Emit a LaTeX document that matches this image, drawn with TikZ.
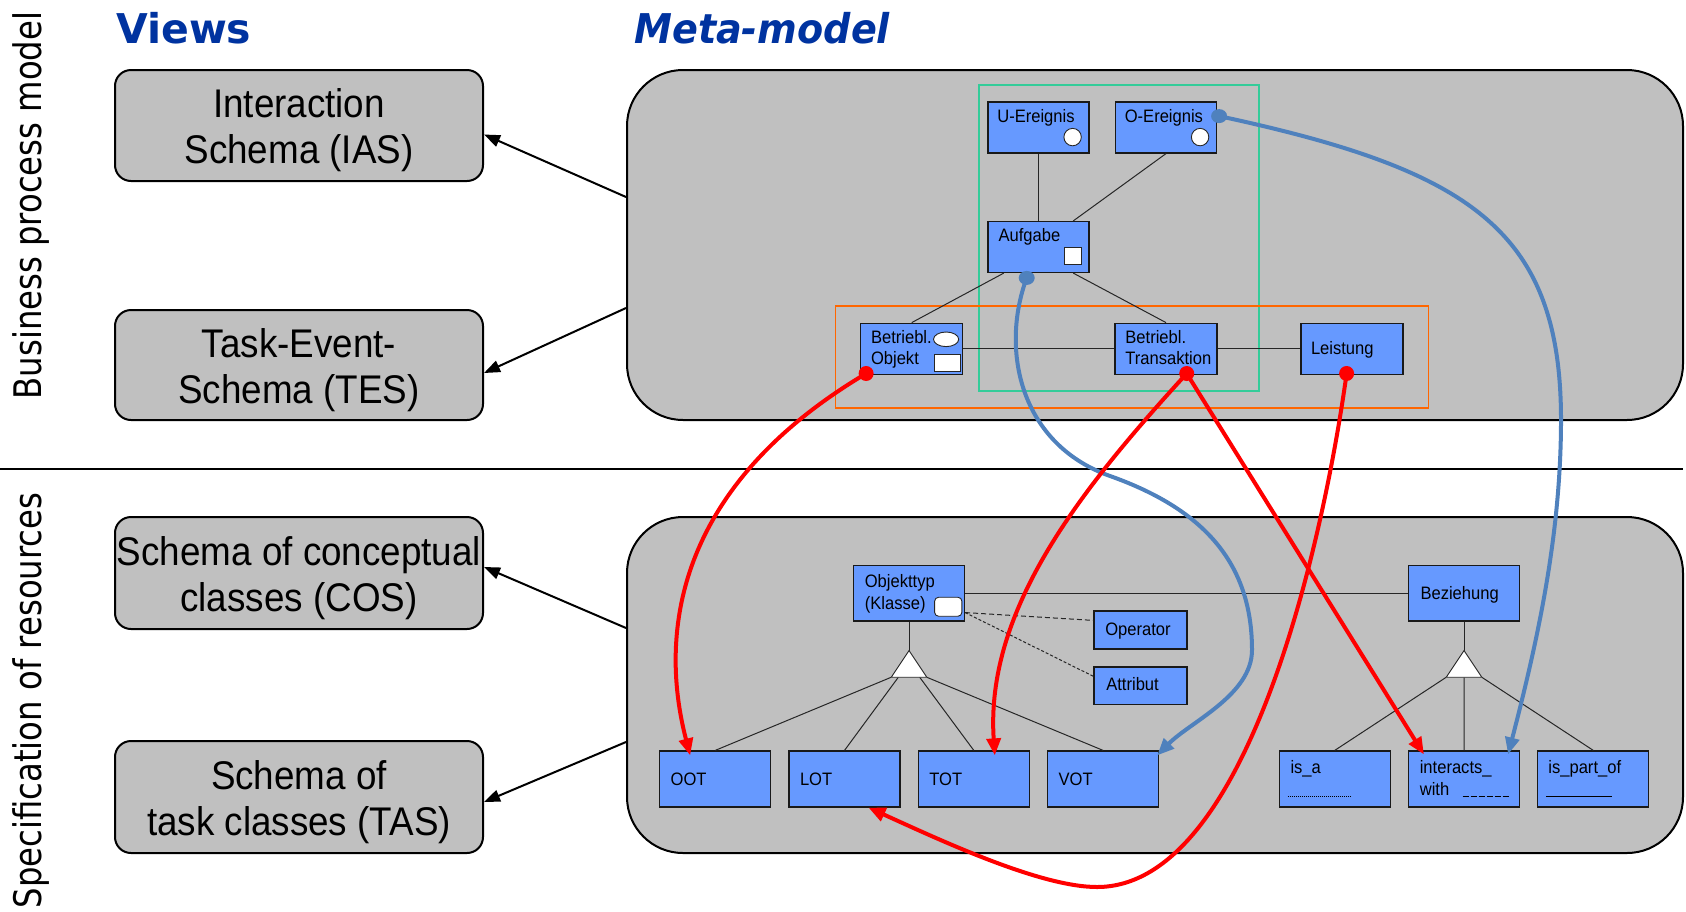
\documentclass[tikz,border=0pt]{standalone}
\usepackage{fontspec}
\setmainfont{Liberation Sans}
\newfontfamily\dejavu{DejaVu Sans}
\usetikzlibrary{arrows.meta,calc}
\definecolor{boxgray}{RGB}{192,192,192}
\definecolor{entblue}{RGB}{102,153,255}
\definecolor{titleblue}{RGB}{0,51,160}
\definecolor{linkblue}{RGB}{79,129,189}
\definecolor{framegreen}{RGB}{51,204,153}
\definecolor{frameorange}{RGB}{255,102,0}
\newcommand{\hsq}[1]{\scalebox{0.92}[1]{#1}}
\newcommand{\vsq}[1]{\scalebox{0.85}[1]{#1}}
\newcommand{\tsq}[1]{\scalebox{0.93}[1]{#1}}
\begin{document}
\begin{tikzpicture}[x=1pt,y=-1pt,
  view/.style={draw=black, line width=2pt, fill=boxgray, rounded corners=16pt,
    minimum width=368pt, minimum height=111pt, inner sep=0pt},
  vtext/.style={inner sep=0pt, align=center, font=\fontsize{40}{46}\selectfont},
  meta/.style={draw=black, line width=2pt, fill=boxgray, rounded corners=56pt, inner sep=0pt},
  ent/.style={draw=black!90, line width=1.2pt, fill=entblue, inner sep=0pt},
  etext/.style={inner sep=0pt, anchor=base west, align=left, font=\fontsize{18}{20.5}\selectfont},
  link/.style={line width=1pt, draw=black!85},
  deco/.style={fill=white, draw=black!85, line width=0.9pt},
  viewarrow/.style={line width=2pt, -{Triangle[length=16pt,width=12pt]}},
  redarrow/.style={draw=red, line width=4pt, -{Triangle[length=17pt,width=14pt]}},
  bluearrow/.style={draw=linkblue, line width=4pt, -{Triangle[length=17pt,width=14pt]}},
  ttl/.style={anchor=base west, inner sep=0pt, text=titleblue},
  side/.style={rotate=90, anchor=base, inner sep=0pt, font=\dejavu\fontsize{38}{40}\selectfont}
]
\useasboundingbox (0,0) rectangle (1686,911);

% titles and side labels
\node[ttl, font=\dejavu\bfseries\fontsize{41}{43}\selectfont] (views) at (116,43) {Views};
\node[ttl, font=\dejavu\bfseries\itshape\fontsize{41}{43}\selectfont] (metatitle) at (634,43) {\tsq{Meta-model}};
\node[side] (bpm) at (41,205.5) {\vsq{Business process model}};
\node[side] (sor) at (41,700.5) {\vsq{Specification of resources}};

% separator
\coordinate (sepL) at (0,469);
\coordinate (sepR) at (1683,469);
\draw[line width=1.5pt] (sepL) -- (sepR);

% view boxes
\node[view] (ias) at (299,125.5) {};
\node[view, minimum height=110pt] (tes) at (299,365) {};
\node[view, minimum height=112pt] (cos) at (299,573) {};
\node[view, minimum height=112pt] (tas) at (299,797) {};
\node[vtext] (iasT) at ($(ias.center)+(0,5)$) {\hsq{Interaction}\\\hsq{Schema (IAS)}};
\node[vtext] (tesT) at ($(tes.center)+(0,5)$) {\hsq{Task-Event-}\\\hsq{Schema (TES)}};
\node[vtext] (cosT) at ($(cos.center)+(0,5)$) {\hsq{Schema of conceptual}\\\hsq{classes (COS)}};
\node[vtext] (tasT) at ($(tas.center)+(0,5)$) {\hsq{Schema of}\\\hsq{task classes (TAS)}};

% meta-model boxes
\node[meta, minimum width=1056pt, minimum height=350pt] (mtop) at (1155,245) {};
\node[meta, minimum width=1056pt, minimum height=336pt] (mbot) at (1155,685) {};

% arrows to views
\draw[viewarrow] ($(mtop.west)+(0,-48)$) -- ($(ias.east)+(0,9)$);
\draw[viewarrow] ($(mtop.west)+(0,63)$) -- ($(tes.east)+(0,8)$);
\draw[viewarrow] ($(mbot.west)+(0,-57)$) -- ($(cos.east)+(0,-6)$);
\draw[viewarrow] ($(mbot.west)+(0,57)$) -- ($(tas.east)+(0,5)$);

% frames
\draw[framegreen, line width=1.2pt] (979,85) rectangle (1259,391);
\draw[frameorange, line width=1.2pt] (835.5,306) rectangle (1428.5,408);

% entities top
\node[ent, minimum width=101pt, minimum height=51pt] (ue) at (1038.5,127.5) {};
\node[ent, minimum width=101pt, minimum height=51pt] (oe) at (1166,127.5) {};
\node[ent, minimum width=101pt, minimum height=51pt] (auf) at (1038.5,247) {};
\node[ent, minimum width=102pt, minimum height=51pt] (bo) at (911.7,348.7) {};
\node[ent, minimum width=102pt, minimum height=51pt] (bt) at (1166,348.7) {};
\node[ent, minimum width=102pt, minimum height=51pt] (lei) at (1352,348.7) {};

% entities bottom
\node[ent, minimum width=111pt, minimum height=55.5pt] (obj) at (909,593.2) {};
\node[ent, minimum width=93pt, minimum height=38pt] (op) at (1140.5,630) {};
\node[ent, minimum width=93pt, minimum height=37.5pt] (att) at (1140.5,685.7) {};
\node[ent, minimum width=111pt, minimum height=55.5pt] (bez) at (1464,593.2) {};
\node[ent, minimum width=111pt, minimum height=56pt] (oot) at (715.2,779) {};
\node[ent, minimum width=111pt, minimum height=56pt] (lot) at (844.5,779) {};
\node[ent, minimum width=111pt, minimum height=56pt] (tot) at (973.8,779) {};
\node[ent, minimum width=111pt, minimum height=56pt] (vot) at (1103.1,779) {};
\node[ent, minimum width=111pt, minimum height=56pt] (isa) at (1334.7,779) {};
\node[ent, minimum width=111pt, minimum height=56pt] (iw) at (1464,779) {};
\node[ent, minimum width=111pt, minimum height=56pt] (ipo) at (1593.3,779) {};

% connections top
\draw[link] (ue.south) -- (auf.north);
\draw[link] (oe.south) -- ($(auf.north west)!0.84!(auf.north east)$);
\draw[link] ($(auf.south west)!0.16!(auf.south east)$) -- (bo.north);
\draw[link] ($(auf.south west)!0.84!(auf.south east)$) -- (bt.north);
\draw[link] (bo.east) -- (bt.west);
\draw[link] (bt.east) -- (lei.west);

% connections bottom
\draw[link] (obj.east) -- (bez.west);
\draw[link, dash pattern=on 5pt off 3pt] ($(obj.south east)+(0,-9)$) -- ($(op.north west)+(0,10)$);
\draw[link, dash pattern=on 3pt off 2pt] ($(obj.south east)+(0,-9)$) -- ($(att.north west)+(0,10)$);

\coordinate (t1a) at ($(obj.south)+(0,29)$);
\coordinate (t1l) at ($(t1a)+(-17.8,26.7)$);
\coordinate (t1r) at ($(t1a)+(17.8,26.7)$);
\draw[link] (obj.south) -- (t1a);
\draw[link] (t1l) -- (oot.north);
\draw[link] ($(t1l)!0.2!(t1r)$) -- (lot.north);
\draw[link] ($(t1l)!0.8!(t1r)$) -- (tot.north);
\draw[link] (t1r) -- (vot.north);
\draw[deco] (t1a) -- (t1l) -- (t1r) -- cycle;

\coordinate (t2a) at ($(bez.south)+(0,29)$);
\coordinate (t2l) at ($(t2a)+(-17.8,26.7)$);
\coordinate (t2r) at ($(t2a)+(17.8,26.7)$);
\draw[link] (bez.south) -- (t2a);
\draw[link] (t2l) -- (isa.north);
\draw[link] ($(t2l)!0.5!(t2r)$) -- (iw.north);
\draw[link] (t2r) -- (ipo.north);
\draw[deco] (t2a) -- (t2l) -- (t2r) -- cycle;

% entity texts (multi-line nodes are placed at the baseline of their last line)
\node[etext] (ueT) at ($(ue.north west)+(9.7,21.3)$) {\hsq{U-Ereignis}};
\node[etext] (oeT) at ($(oe.north west)+(9.7,21.3)$) {\hsq{O-Ereignis}};
\node[etext] (aufT) at ($(auf.north west)+(11,20.2)$) {\hsq{Aufgabe}};
\node[etext] (boT) at ($(bo.north west)+(10.7,41.5)$) {\hsq{Betriebl.}\\\hsq{Objekt}};
\node[etext] (btT) at ($(bt.north west)+(10.8,41.5)$) {\hsq{Betriebl.}\\\hsq{Transaktion}};
\node[etext] (leiT) at ($(lei.north west)+(10.4,31.7)$) {\hsq{Leistung}};
\node[etext, font=\fontsize{18}{21.7}\selectfont] (objT) at ($(obj.north west)+(11.7,44.7)$) {\hsq{Objekttyp}\\\hsq{(Klasse)}};
\node[etext] (opT) at ($(op.north west)+(11.7,25.3)$) {\hsq{Operator}};
\node[etext] (attT) at ($(att.north west)+(12.7,24)$) {\hsq{Attribut}};
\node[etext] (bezT) at ($(bez.north west)+(12.4,34.7)$) {\hsq{Beziehung}};
\node[etext] (ootT) at ($(oot.north west)+(11.4,35)$) {\hsq{OOT}};
\node[etext] (lotT) at ($(lot.north west)+(11.4,35)$) {\hsq{LOT}};
\node[etext] (totT) at ($(tot.north west)+(11.4,35)$) {\hsq{TOT}};
\node[etext] (votT) at ($(vot.north west)+(11.4,35)$) {\hsq{VOT}};
\node[etext] (isaT) at ($(isa.north west)+(11.7,23)$) {\hsq{is\_a}};
\node[etext, font=\fontsize{18}{22}\selectfont] (iwT) at ($(iw.north west)+(11.7,45)$) {\hsq{interacts\_}\\\hsq{with}};
\node[etext] (ipoT) at ($(ipo.north west)+(11,23)$) {\hsq{is\_part\_of}};
\draw[line width=0.9pt, dash pattern=on 1pt off 1pt] ($(isa.north west)+(9.3,46.3)$) -- ($(isa.north west)+(72.7,46.3)$);
\draw[line width=1.2pt, dash pattern=on 6pt off 2pt] ($(iw.north west)+(54.7,46.3)$) -- ($(iw.north west)+(101.7,46.3)$);
\draw[line width=1.5pt] ($(ipo.north west)+(9,46.3)$) -- ($(ipo.north west)+(74.4,46.3)$);

% small decorations
\draw[deco] ($(ue.south east)+(-17,-16.5)$) circle [radius=8.7pt];
\draw[deco] ($(oe.south east)+(-17,-16.5)$) circle [radius=8.7pt];
\draw[deco] ($(auf.south east)+(-25,-25.8)$) rectangle ($(auf.south east)+(-7.7,-8.5)$);
\draw[deco] ($(bo.north east)+(-17.2,16.7)$) ellipse [x radius=12.6pt, y radius=7.3pt];
\draw[deco] ($(bo.south east)+(-29,-20)$) rectangle ($(bo.south east)+(-3,-3)$);
\draw[deco, rounded corners=4pt] ($(obj.south east)+(-30.5,-24.3)$) rectangle ($(obj.south east)+(-3.2,-5.3)$);

% mapping curves
\coordinate (dBO) at ($(bo.south west)+(6,-1.3)$);
\coordinate (dBT) at ($(bt.south)+(20.7,-1.3)$);
\coordinate (dLE) at ($(lei.south)+(-5.4,-1.3)$);
\coordinate (dOE) at ($(oe.north east)+(2,14.7)$);
\coordinate (dAU) at ($(auf.south)+(-11.8,4.8)$);
\coordinate (eOOT) at ($(oot.north)+(-25,5)$);
\coordinate (eTOT) at ($(tot.north)+(21,5)$);
\coordinate (eVOT) at ($(vot.north east)+(-2,5)$);
\coordinate (eIWr) at ($(iw.north west)+(16,4)$);
\coordinate (eIWb) at ($(iw.north east)+(-12,4)$);
\coordinate (eLOT) at ($(lot.south)+(24,0)$);

\draw[bluearrow] (dOE) .. controls (1470,170) and (1561,230) .. (1561,420)
  .. controls (1561,540) and (1535,650) .. (eIWb);
\draw[bluearrow] (dAU) .. controls (1000,350) and (1020,444) .. (1110,476)
  .. controls (1200,508) and (1252,560) .. (1252,650)
  .. controls (1252,695) and (1190,722) .. (eVOT);
\draw[redarrow] (dBO) .. controls (670,490) and (660,640) .. (eOOT);
\draw[redarrow] (dBT) .. controls (1080,490) and (985,610) .. (eTOT);
\draw[redarrow] (dBT) -- (eIWr);
\draw[redarrow] (dLE) .. controls (1325,530) and (1250,887) .. (1097,887)
  .. controls (1040,887) and (940,840) .. (eLOT);

\fill[red] (dBO) circle [radius=7.5pt];
\fill[red] (dBT) circle [radius=7.5pt];
\fill[red] (dLE) circle [radius=7.5pt];
\fill[linkblue] (dOE) ellipse [x radius=8pt, y radius=7pt];
\fill[linkblue] (dAU) ellipse [x radius=8pt, y radius=7pt];
\end{tikzpicture}
\end{document}
